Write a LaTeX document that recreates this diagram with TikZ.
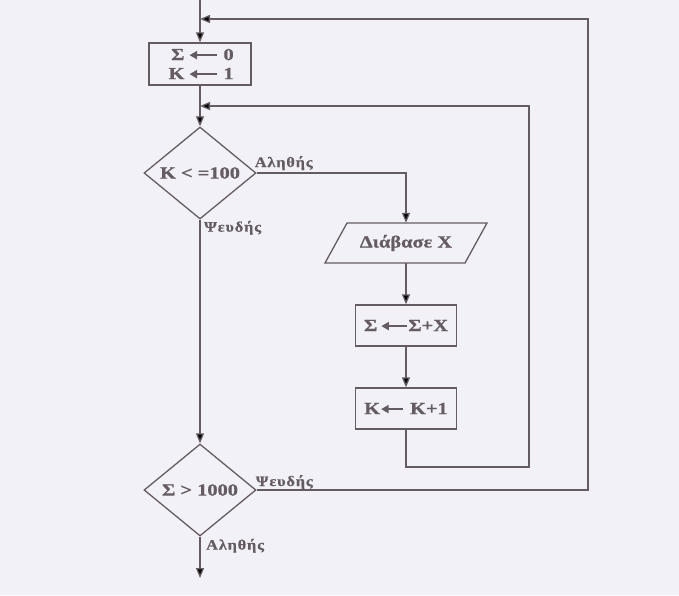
\documentclass[tikz,border=0pt]{standalone}
\usepackage{fontspec}
\setmainfont{Liberation Serif}[FakeStretch=1.2,BoldFeatures={FakeBold=0.8}]
\newfontfamily\labfont{Liberation Serif}[FakeStretch=1.12,LetterSpace=6,BoldFeatures={FakeBold=0.5}]
\usetikzlibrary{arrows.meta,shapes.geometric,calc}
\definecolor{ink}{RGB}{100,92,98}
\definecolor{paper}{RGB}{242,241,248}
\newcommand\larr[1]{\tikz[baseline=0pt,x=1pt,y=1pt]\draw[ink,line width=2pt,-{Triangle[length=7.5pt,width=8pt]}] (#1,5) -- (0,5);}
\begin{document}
\begin{tikzpicture}[x=1pt,y=-1pt,
  line/.style={draw=ink,line width=1.3pt},
  arr/.style={line,-{Triangle[length=10pt,width=8pt]}},
  txt/.style={font=\fontsize{17}{19}\selectfont\bfseries,text=ink},
  box/.style={draw=ink,line width=1.3pt,rectangle,inner sep=0pt,minimum width=101pt,minimum height=41pt,txt,align=center},
  dec/.style={draw=ink,line width=1.3pt,diamond,aspect=1.2,inner sep=0pt,minimum width=112pt,minimum height=92pt,txt},
  lab/.style={font=\labfont\fontsize{14.5}{16}\selectfont\bfseries,text=ink,inner sep=0pt}]
\fill[paper] (0,0) rectangle (679,595);
\useasboundingbox (0,0) rectangle (679,595);

\coordinate (top) at (200,0);
\node[box,minimum width=102pt,minimum height=42pt] (init) at (200,64)
  {\makebox[20pt][r]{Σ}\kern4pt\larr{27pt}\kern6pt\makebox[12pt][l]{0}\\
   \makebox[20pt][r]{K}\kern4pt\larr{27pt}\kern6pt\makebox[12pt][l]{1}};
\node[dec] (d1) at (200,173) {K < =100};
\node[dec] (d2) at (200,490) {Σ > 1000};
\node[minimum width=118pt,minimum height=40pt,inner sep=0pt,txt] (read) at (406,243) {Διάβασε Χ};
\draw[line] ($(read.center)+(-59,-20)$) -- ($(read.center)+(81,-20)$) -- ($(read.center)+(59,20)$) -- ($(read.center)+(-81,20)$) -- cycle;
\node[box] (sum) at (406,325.5) {Σ\kern3pt\larr{26pt}Σ+X};
\node[box] (inc) at (406,408.5) {K\larr{22pt}\kern6pt K+1};

\coordinate (end) at (200,578);
\coordinate (j0) at (200,19);
\coordinate (j1) at (200,106);
\coordinate (o1) at (588,490);
\coordinate (o2) at (588,19);
\coordinate (r1) at (406,173);
\coordinate (i1) at (406,467);
\coordinate (i2) at (529,467);
\coordinate (i3) at (529,106);

\draw[arr] (top) -- (init);
\draw[arr] (init) -- (d1);
\draw[arr] (d1.east) -- (r1) -- (read.north);
\draw[arr] (read.south) -- (sum);
\draw[arr] (sum) -- (inc);
\draw[arr] (inc.south) -- (i1) -- (i2) -- (i3) -- (j1);
\draw[arr] (d1.south) -- (d2.north);
\draw[arr] (d2.east) -- (o1) -- (o2) -- (j0);
\draw[arr] (d2.south) -- (end);

\node[lab,anchor=base west] (t1) at ($(d1.east)+(-2,-6)$) {Αληθής};
\node[lab,anchor=base west] (f1) at ($(d1.south)+(4,12)$) {Ψευδής};
\node[lab,anchor=base west] (f2) at ($(d2.east)+(-1,-4)$) {Ψευδής};
\node[lab,anchor=base west] (t2) at ($(d2.south)+(6,13)$) {Αληθής};
\end{tikzpicture}
\end{document}
